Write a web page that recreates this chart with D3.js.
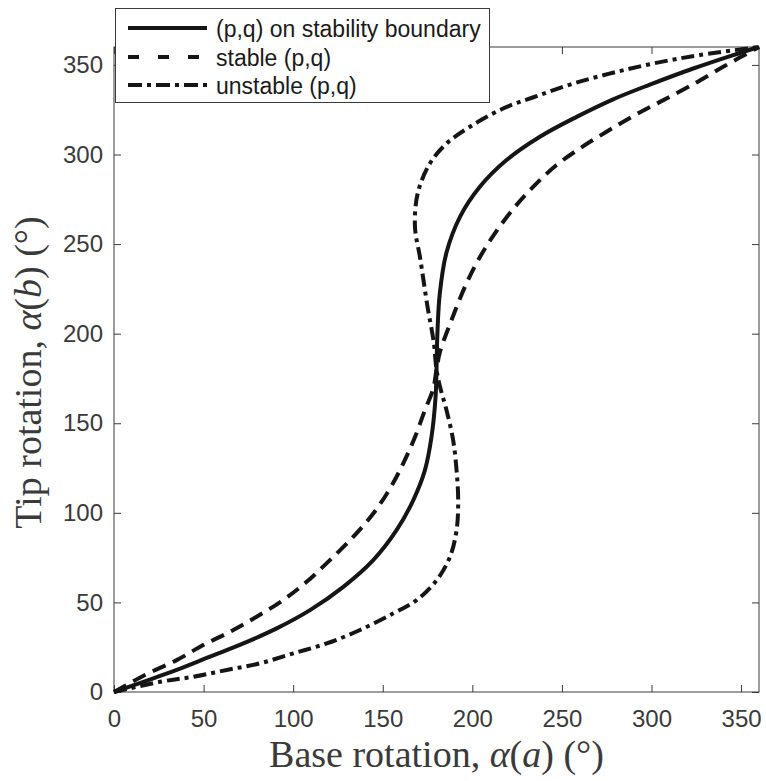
<!DOCTYPE html>
<html>
<head>
<meta charset="utf-8">
<script src="https://cdn.jsdelivr.net/npm/d3@7"></script>
<style>
  html, body { margin: 0; padding: 0; background: #fff; }
  svg { display: block; }
</style>
</head>
<body>
<svg id="chart" width="766" height="781"></svg>
<script>
// ---- data ----
const xTicks = [0, 50, 100, 150, 200, 250, 300, 350];
const yTicks = [0, 50, 100, 150, 200, 250, 300, 350];

const seriesNames = ["(p,q) on stability boundary", "stable (p,q)", "unstable (p,q)"];

const boundaryX = [0, 16.4, 35, 53.6, 72.2, 90.8, 109.4, 128, 144.7, 157.7, 167, 173.5, 177.2, 179.5, 180,
                   180.5, 181.8, 185.5, 193.1, 204.2, 219.1, 237.7, 258.2, 278.6, 299.1, 323.3, 345.6, 360];
const boundaryY = [0, 5.7, 12.3, 19.7, 27.1, 35.5, 45.7, 58.7, 73.6, 90.3, 107, 123.7, 142.3, 165, 180,
                   200, 222, 245, 265.2, 282, 296.9, 309.9, 321, 330.8, 339, 348, 355.5, 360];

const stableX = [0, 17.3, 35, 49.8, 64.7, 79.6, 94.4, 107.5, 120.5, 133.5, 144.7, 154, 161.4, 168, 173.5, 178.2, 180,
                 182, 188.4, 195.9, 203.3, 212.6, 223.8, 234.9, 247, 260, 274.9, 289.8, 305, 322, 341, 360];
const stableY = [0, 9.5, 17.8, 26.2, 33.6, 42, 51.3, 61.5, 73.6, 86.6, 99.6, 113.5, 127.5, 142.3, 157.2, 169.3, 180,
                 190, 207.6, 226.2, 241.1, 256, 270.8, 282.9, 294.1, 303.4, 312.7, 321.5, 329.5, 338.5, 349.5, 360];

const unstableX = [0, 25.7, 44.3, 62.9, 81.5, 100.1, 118.7, 137.3, 155.9, 168.9, 180.1, 187.5, 191.2, 192.1, 191.2, 189.3, 185.6, 182, 180,
                   178.5, 175, 170.8, 168, 169.5, 176.3, 185.7, 198.7, 217.2, 235.9, 256, 278, 301, 327, 360];
const unstableY = [0, 5.7, 8.5, 12.3, 16, 21.6, 27.1, 34.6, 43.9, 51.3, 62.4, 75.4, 90.3, 107, 123.7, 140.5, 157.2, 170.2, 180,
                   195, 215, 242.6, 259.4, 278.3, 295, 306.2, 315.5, 325.7, 332.6, 339.5, 345.5, 350.8, 355.5, 360];

// ---- layout ----
const L = 114, R = 759, T = 47, B = 692;
const axisColor = "#3a3a3a";
const textColor = "#3a3a3a";
const lineColor = "#151515";

const svg = d3.select("#chart");
const x = d3.scaleLinear().domain([0, 360]).range([L, R]);
const y = d3.scaleLinear().domain([0, 360]).range([B, T]);

// axes box
svg.append("rect").attr("x", L).attr("y", T).attr("width", R - L).attr("height", B - T)
  .attr("fill", "none").attr("stroke", axisColor).attr("stroke-width", 1);

function styleAxis(g, showText) {
  g.select(".domain").remove();
  g.selectAll(".tick line").attr("stroke", axisColor).attr("stroke-width", 1);
  g.selectAll(".tick text")
    .attr("fill", textColor)
    .style("font-family", "'Liberation Sans', Arial, Helvetica, sans-serif")
    .style("font-size", "24px");
  if (!showText) g.selectAll(".tick text").remove();
}

svg.append("g").attr("transform", `translate(0,${B})`)
  .call(d3.axisBottom(x).tickValues(xTicks).tickSizeInner(-7).tickSizeOuter(0).tickPadding(18))
  .call(g => styleAxis(g, true));
svg.append("g").attr("transform", `translate(0,${T})`)
  .call(d3.axisTop(x).tickValues(xTicks).tickSizeInner(-7).tickSizeOuter(0))
  .call(g => styleAxis(g, false));
svg.append("g").attr("transform", `translate(${L},0)`)
  .call(d3.axisLeft(y).tickValues(yTicks).tickSizeInner(-7).tickSizeOuter(0).tickPadding(11))
  .call(g => styleAxis(g, true));
svg.append("g").attr("transform", `translate(${R},0)`)
  .call(d3.axisRight(y).tickValues(yTicks).tickSizeInner(-7).tickSizeOuter(0))
  .call(g => styleAxis(g, false));

// ---- curves ----
const styles = [
  { dash: null, legendDash: null },
  { dash: "14,8", legendDash: "11,19" },
  { dash: "13,5,4,5", legendDash: "14,5,4,5" }
];
const seriesData = [
  d3.zip(boundaryX, boundaryY),
  d3.zip(stableX, stableY),
  d3.zip(unstableX, unstableY)
];
const line = d3.line().x(d => x(d[0])).y(d => y(d[1])).curve(d3.curveCatmullRom.alpha(0.5));

seriesData.forEach((pts, i) => {
  svg.append("path").attr("d", line(pts))
    .attr("fill", "none").attr("stroke", lineColor).attr("stroke-width", 4)
    .attr("stroke-dasharray", styles[i].dash);
});

// ---- axis labels ----
const serif = "'Liberation Serif', 'Times New Roman', serif";
const xl = svg.append("text").attr("x", (L + R) / 2).attr("y", 767)
  .attr("text-anchor", "middle").attr("fill", "#3a3a3a")
  .style("font-family", serif).style("font-size", "38px");
xl.append("tspan").text("Base rotation, ");
xl.append("tspan").style("font-style", "italic").text("α");
xl.append("tspan").text("(");
xl.append("tspan").style("font-style", "italic").text("a");
xl.append("tspan").text(") (°)");

const yl = svg.append("text").attr("transform", `translate(41,${(T + B) / 2 + 3}) rotate(-90)`)
  .attr("text-anchor", "middle").attr("fill", "#3a3a3a")
  .style("font-family", serif).style("font-size", "38px");
yl.append("tspan").text("Tip rotation, ");
yl.append("tspan").style("font-style", "italic").text("α");
yl.append("tspan").text("(");
yl.append("tspan").style("font-style", "italic").text("b");
yl.append("tspan").text(") (°)");

// ---- legend ----
const lg = svg.append("g");
lg.append("rect").attr("x", 115.5).attr("y", 8.5).attr("width", 374).attr("height", 94)
  .attr("fill", "#fff").attr("stroke", axisColor).attr("stroke-width", 1);
const rowY = [28, 57, 85];
seriesNames.forEach((name, i) => {
  lg.append("line").attr("x1", 128).attr("x2", 207).attr("y1", rowY[i]).attr("y2", rowY[i])
    .attr("stroke", lineColor).attr("stroke-width", 4)
    .attr("stroke-dasharray", styles[i].legendDash);
  lg.append("text").attr("x", 216).attr("y", rowY[i] + 8.5)
    .attr("fill", "#1a1a1a")
    .style("font-family", "'Liberation Sans', Arial, Helvetica, sans-serif")
    .style("font-size", "23px")
    .text(name);
});
</script>
</body>
</html>
